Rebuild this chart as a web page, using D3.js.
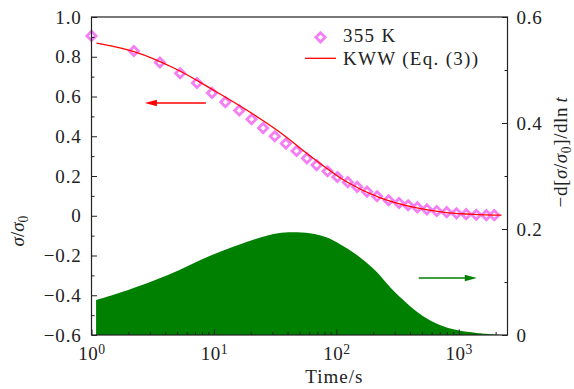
<!DOCTYPE html>
<html><head><meta charset="utf-8">
<script src="https://cdn.jsdelivr.net/npm/d3@7"></script>
<style>
html,body{margin:0;padding:0;background:#fff;}
svg text{font-family:"Liberation Serif","Times New Roman",serif;fill:#222;}
</style></head>
<body><svg id="c" width="574" height="389"></svg>
<script>
// ---- data ----
const markT = [1.0, 2.22, 3.62, 5.3, 7.27, 9.64, 12.4, 16.1, 20.3, 25.2, 31.4, 38.7, 47.3, 57.5, 69.0, 84.7, 102, 124, 148, 178, 215, 267, 325, 386, 459, 549, 660, 796, 958, 1150, 1390, 1680, 1950];
const markV = [0.905, 0.829, 0.771, 0.717, 0.668, 0.618, 0.572, 0.530, 0.486, 0.441, 0.400, 0.363, 0.326, 0.289, 0.255, 0.224, 0.195, 0.169, 0.145, 0.121, 0.098, 0.078, 0.064, 0.053, 0.042, 0.032, 0.024, 0.018, 0.012, 0.008, 0.005, 0.003, 0.003];
const fitT = [1.10, 2.26, 4.80, 9.87, 18.5, 34.6, 48.8, 64.7, 121, 226, 424, 794, 1484, 2233];
const fitV = [0.869, 0.825, 0.741, 0.633, 0.532, 0.420, 0.348, 0.289, 0.171, 0.091, 0.043, 0.016, 0.006, 0.003];
const derT = [1.09, 1.99, 4.21, 9.63, 20.4, 33.3, 43.3, 60.8, 73.3, 93.6, 117, 147, 214, 273, 376, 508, 700, 964, 1403, 2244];
const derV = [0.066, 0.085, 0.113, 0.151, 0.179, 0.192, 0.194, 0.192, 0.188, 0.179, 0.166, 0.151, 0.119, 0.091, 0.060, 0.036, 0.019, 0.0094, 0.0038, 0.0];
const xTicks = [1, 10, 100, 1000];
const yLTicks = [1.0, 0.8, 0.6, 0.4, 0.2, 0, -0.2, -0.4, -0.6];
const yLLabels = ["1.0", "0.8", "0.6", "0.4", "0.2", "0", "\u22120.2", "\u22120.4", "\u22120.6"];
const yRTicks = [0, 0.2, 0.4, 0.6];
const yRLabels = ["0", "0.2", "0.4", "0.6"];
const legendLabels = ["355 K", "KWW (Eq. (3))"];

// ---- layout ----
const L = 91.5, R = 507.5, T = 17, B = 335;
const svg = d3.select("#c");
const x = d3.scaleLog().domain([1, 2500]).range([L, R]);
const yL = d3.scaleLinear().domain([-0.6, 1.0]).range([B, T]);
const yR = d3.scaleLinear().domain([0, 0.6]).range([B, T]);
const FS = 19;
const markColor = "#f47ff4";

// green area
const der = derT.map((t, i) => [t, derV[i]]);
svg.append("path").datum(der)
  .attr("fill", "#008000")
  .attr("d", d3.area().x(d => x(d[0])).y0(yR(0)).y1(d => yR(d[1])).curve(d3.curveCatmullRom.alpha(0.5)));

// markers
const diamond = (cx, cy, w, h) => `M${cx},${cy-h}L${cx+w},${cy}L${cx},${cy+h}L${cx-w},${cy}Z`;
svg.append("g").selectAll("path").data(markT.map((t, i) => [t, markV[i]])).join("path")
  .attr("d", d => diamond(x(d[0]), yL(d[1]), 4.6, 4.6))
  .attr("fill", "none").attr("stroke", markColor).attr("stroke-width", 2.8);

// fit line
svg.append("path").datum(fitT.map((t, i) => [t, fitV[i]]))
  .attr("fill", "none").attr("stroke", "#ff0000").attr("stroke-width", 1.3)
  .attr("d", d3.line().x(d => x(d[0])).y(d => yL(d[1])).curve(d3.curveCatmullRom.alpha(0.5)));

// arrows
function arrow(x1, x2, y, color) {
  const dir = Math.sign(x2 - x1);
  svg.append("line").attr("x1", x1).attr("x2", x2 - dir * 8).attr("y1", y).attr("y2", y)
    .attr("stroke", color).attr("stroke-width", 1.5);
  svg.append("path").attr("d", `M${x2},${y}L${x2 - dir * 12},${y - 3.2}L${x2 - dir * 12},${y + 3.2}Z`).attr("fill", color);
}
arrow(x(8.6), x(2.73), yL(0.567), "#ff0000");
arrow(x(471), x(1403), yR(0.1075), "#008000");

// axes
const axStyle = g => { g.attr("font-family", null); g.selectAll(".domain").remove(); g.selectAll("line").attr("stroke", "#222").attr("stroke-width", 1); };
const minorX = [];
for (let d = 1; d < 10000; d *= 10) for (let k = 2; k <= 9; k++) if (d * k <= 2500) minorX.push(d * k);

const gx = svg.append("g").attr("transform", `translate(0,${B})`)
  .call(d3.axisBottom(x).tickValues(xTicks).tickSize(-5.5).tickPadding(8).tickFormat(() => ""));
axStyle(gx);
gx.selectAll(".tick text").each(function(d) {
  const t = d3.select(this).attr("font-size", FS).attr("dy", "0.9em").attr("letter-spacing", "0.5");
  t.append("tspan").text("10");
  t.append("tspan").attr("dy", "-0.45em").attr("font-size", FS * 0.72).text(Math.round(Math.log10(d)));
});
svg.append("g").attr("transform", `translate(0,${B})`)
  .call(d3.axisBottom(x).tickValues(minorX).tickSize(-3).tickFormat(() => "")).call(axStyle);

const gl = svg.append("g").attr("transform", `translate(${L},0)`)
  .call(d3.axisLeft(yL).tickValues(yLTicks).tickSize(-5.5).tickPadding(10).tickFormat((d, i) => yLLabels[i]));
axStyle(gl);
gl.selectAll(".tick text").attr("font-size", FS).attr("letter-spacing", "0.8");
svg.append("g").attr("transform", `translate(${L},0)`)
  .call(d3.axisLeft(yL).tickValues(d3.range(-0.5, 1.0, 0.2).map(v => +v.toFixed(1))).tickSize(-3).tickFormat(() => "")).call(axStyle);

const gr = svg.append("g").attr("transform", `translate(${R},0)`)
  .call(d3.axisRight(yR).tickValues(yRTicks).tickSize(-5.5).tickPadding(9).tickFormat((d, i) => yRLabels[i]));
axStyle(gr);
gr.selectAll(".tick text").attr("font-size", FS).attr("letter-spacing", "0.8");
svg.append("g").attr("transform", `translate(${R},0)`)
  .call(d3.axisRight(yR).tickValues([0.1, 0.3, 0.5]).tickSize(-3).tickFormat(() => "")).call(axStyle);

// frame
svg.append("rect").attr("x", L).attr("y", T).attr("width", R - L).attr("height", B - T)
  .attr("fill", "none").attr("stroke", "#222").attr("stroke-width", 1.2);

// axis titles
svg.append("text").attr("x", (x(10) + x(1000)) / 2 - 2).attr("y", 383).attr("text-anchor", "middle")
  .attr("font-size", FS).attr("letter-spacing", "1").text("Time/s");
const tl = svg.append("text").attr("transform", "translate(24,231) rotate(-90)").attr("text-anchor", "middle").attr("font-size", FS);
tl.append("tspan").attr("font-style", "italic").text("σ");
tl.append("tspan").text("/");
tl.append("tspan").attr("font-style", "italic").text("σ");
tl.append("tspan").attr("font-size", FS * 0.72).attr("dy", "0.3em").text("0");
const tr = svg.append("text").attr("transform", "translate(567,152) rotate(-90)").attr("text-anchor", "middle").attr("font-size", FS).attr("letter-spacing", "0.6");
tr.append("tspan").text("\u2212d[");
tr.append("tspan").attr("font-style", "italic").text("σ");
tr.append("tspan").text("/");
tr.append("tspan").attr("font-style", "italic").text("σ");
tr.append("tspan").attr("font-size", FS * 0.72).attr("dy", "0.3em").text("0");
tr.append("tspan").attr("dy", "-0.22em").text("]/dln\u2009");
tr.append("tspan").attr("font-style", "italic").text("t");

// legend
svg.append("path").attr("d", diamond(320.5, 37.3, 4.6, 4.6)).attr("fill", "none").attr("stroke", markColor).attr("stroke-width", 2.8);
svg.append("line").attr("x1", 305).attr("x2", 336).attr("y1", 58.3).attr("y2", 58.3).attr("stroke", "#ff0000").attr("stroke-width", 1.3);
svg.append("text").attr("x", 343).attr("y", 42).attr("font-size", FS).attr("letter-spacing", "1.3").text(legendLabels[0]);
svg.append("text").attr("x", 343).attr("y", 65).attr("font-size", FS).attr("letter-spacing", "1.3").text(legendLabels[1]);
</script></body></html>
